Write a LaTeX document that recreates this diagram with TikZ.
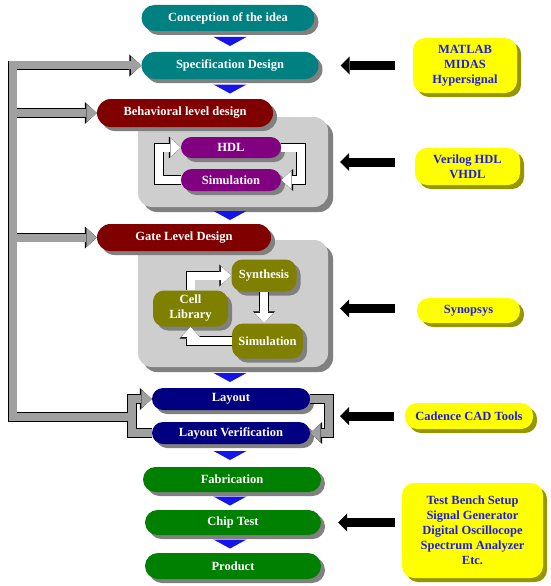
\documentclass[tikz,border=0pt]{standalone}
\usepackage{fontspec}
\setmainfont{Liberation Serif}
\usetikzlibrary{arrows.meta, shapes.misc, shadows, calc}
\definecolor{cteal}{RGB}{0,128,128}
\definecolor{cmaroon}{RGB}{128,0,0}
\definecolor{cpurple}{RGB}{128,0,128}
\definecolor{colive}{RGB}{128,128,0}
\definecolor{cnavy}{RGB}{0,0,128}
\definecolor{cgreen}{RGB}{0,128,0}
\definecolor{cyellow}{RGB}{255,255,0}
\definecolor{cdyellow}{RGB}{150,150,0}
\definecolor{ctext}{RGB}{30,30,225}
\definecolor{cpanel}{RGB}{206,206,206}
\definecolor{cshadow}{RGB}{128,128,128}
\definecolor{carrow}{RGB}{160,160,160}
\definecolor{ctri}{RGB}{20,20,235}

\begin{document}
\begin{tikzpicture}[x=1pt, y=-1pt,
  boxtext/.style={font=\fontsize{12.5}{15}\selectfont\bfseries, text=white, inner sep=0pt, align=center},
  pill/.style={boxtext, rounded rectangle, fill=#1,
    drop shadow={shadow xshift=4pt, shadow yshift=-4pt, fill=cshadow, opacity=1}},
  block/.style={boxtext, rectangle, rounded corners=11pt, fill=#1,
    drop shadow={shadow xshift=4pt, shadow yshift=-4pt, fill=cshadow, opacity=1}},
  panel/.style={rectangle, rounded corners=14pt, fill=cpanel,
    drop shadow={shadow xshift=5pt, shadow yshift=-5pt, fill=cshadow, opacity=1}},
  tool/.style={boxtext, text=ctext, rectangle, rounded corners=12pt, fill=cyellow,
    drop shadow={shadow xshift=4pt, shadow yshift=-4pt, fill=cdyellow, opacity=1}},
  flowtri/.style={fill=ctri},
  fatarrow/.style={draw=carrow, line width=8pt, -{Triangle[length=10.5pt,width=19pt,line width=0pt]},
    preaction={draw=black, line width=9.6pt, -{Triangle[length=12pt,width=22pt,line width=0pt]}}},
  hollowarrow/.style={fatarrow, draw=white},
  toolarrow/.style={draw=black, line width=9pt, -{Triangle[length=9pt,width=18pt,line width=0pt]}}]

  \path[use as bounding box, fill=white] (0,0) rectangle (550,586);

  % grey panels behind the design levels
  \node[panel, minimum width=190pt, minimum height=90pt] (hdlpanel) at (233,162) {};
  \node[panel, minimum width=190pt, minimum height=127pt] (gatepanel) at (233,303.5) {};

  % main flow
  \node[pill=cteal, minimum width=173pt, minimum height=26pt] (concept) at (228,18) {Conception of the idea};
  \node[pill=cteal, minimum width=177pt, minimum height=27pt] (spec) at (230,65.5) {Specification Design};
  \node[pill=cmaroon, minimum width=176pt, minimum height=28pt] (behav) at (185,113) {Behavioral level design};
  \node[pill=cpurple, minimum width=100pt, minimum height=21pt] (hdl) at (231,147.5) {HDL};
  \node[pill=cpurple, minimum width=100pt, minimum height=22pt] (hdlsim) at (231,180) {Simulation};
  \node[pill=cmaroon, minimum width=174pt, minimum height=27pt] (gate) at (184,237.5) {Gate Level Design};
  \node[block=colive, minimum width=65pt, minimum height=32pt] (synth) at (264,275.5) {Synthesis};
  \node[block=colive, minimum width=75pt, minimum height=36pt] (cell) at (190.5,308.5) {Cell\\Library};
  \node[block=colive, minimum width=71pt, minimum height=35pt] (gatesim) at (267.5,341) {Simulation};
  \node[pill=cnavy, minimum width=158pt, minimum height=22pt] (layout) at (231,399) {Layout};
  \node[pill=cnavy, minimum width=158pt, minimum height=22pt] (layver) at (231,433) {Layout Verification};
  \node[pill=cgreen, minimum width=178pt, minimum height=25pt] (fab) at (232,479.5) {Fabrication};
  \node[pill=cgreen, minimum width=176pt, minimum height=25pt] (chip) at (233,522.5) {Chip Test};
  \node[pill=cgreen, minimum width=176pt, minimum height=26pt] (product) at (233,566) {Product};

  % tools
  \node[tool, minimum width=104pt, minimum height=55pt] (matlab) at (465,65.5) {MATLAB\\MIDAS\\Hypersignal};
  \node[tool, minimum width=105pt, minimum height=37pt] (verilog) at (467.5,166.5) {Verilog HDL\\VHDL};
  \node[tool, minimum width=103pt, minimum height=25pt] (synopsys) at (468.5,310.5) {Synopsys};
  \node[tool, minimum width=128pt, minimum height=26pt] (cadence) at (469,416) {Cadence CAD Tools};
  \node[tool, minimum width=141pt, minimum height=95pt] (testbench) at (472.5,530.5)
    {Test Bench Setup\\Signal Generator\\Digital Oscillocope\\Spectrum Analyzer\\Etc.};

  \coordinate (spine) at (230,0);
  \coordinate (rail) at (12.5,417);
  \coordinate (lloop) at (132,417);
  \coordinate (rloop) at (329,0);
  \coordinate (hdlleft) at (159,0);
  \coordinate (hdlright) at (301,0);

  \foreach \a/\b in {concept/spec, spec/behav, hdlpanel/gate, gatepanel/layout, layver/fab, fab/chip, chip/product}
    \fill[flowtri] ($(\a.south -| spine)!.5!(\b.north -| spine)$) +(-16.5,-4.5) -- +(16.5,-4.5) -- +(0,4.5) -- cycle;

  % HDL loop
  \draw[hollowarrow] (hdlsim.west) -- (hdlsim.west -| hdlleft) -- (hdl.west -| hdlleft) -- (hdl.west);
  \draw[hollowarrow] (hdl.east) -- (hdl.east -| hdlright) -- (hdlsim.east -| hdlright) -- (hdlsim.east);

  % gate level loop
  \draw[hollowarrow] (cell.north) |- (synth.west);
  \draw[hollowarrow] (synth.south) -- (synth.south |- gatesim.north);
  \draw[hollowarrow] (gatesim.west) -| (cell.south);

  % layout loop and feedback
  \draw[fatarrow] (layver.west) -| (lloop) |- (layout.west);
  \draw[fatarrow] (layout.east) -- (layout.east -| rloop) -- (layver.east -| rloop) -- (layver.east);
  \draw[fatarrow] (lloop) -- (rail) |- (spec.west);
  \foreach \n in {behav, gate}
    \draw[fatarrow] (rail |- \n.west) -- (\n.west);
  \draw[carrow, line width=8pt] (rail) -- (rail |- spec.west);
  \draw[carrow, line width=8pt] (lloop |- layout.west) -- (lloop |- layver.west);

  % tool arrows
  \draw[toolarrow] ($(matlab.west)+(-18,0)$) -- ($(spec.east)+(22,0)$);
  \draw[toolarrow] ($(verilog.west |- hdlpanel.east)+(-20,0)$) -- ($(hdlpanel.east)+(12,0)$);
  \draw[toolarrow] ($(synopsys.west)+(-22,-2)$) -- ($(synopsys.west -| gatepanel.east)+(12,-2)$);
  \draw[toolarrow] ($(cadence.west)+(-11,0)$) -- ($(cadence.west -| rloop)+(11,0)$);
  \draw[toolarrow] ($(chip.east -| testbench.west)+(-7,0)$) -- ($(chip.east)+(17,0)$);
\end{tikzpicture}
\end{document}
